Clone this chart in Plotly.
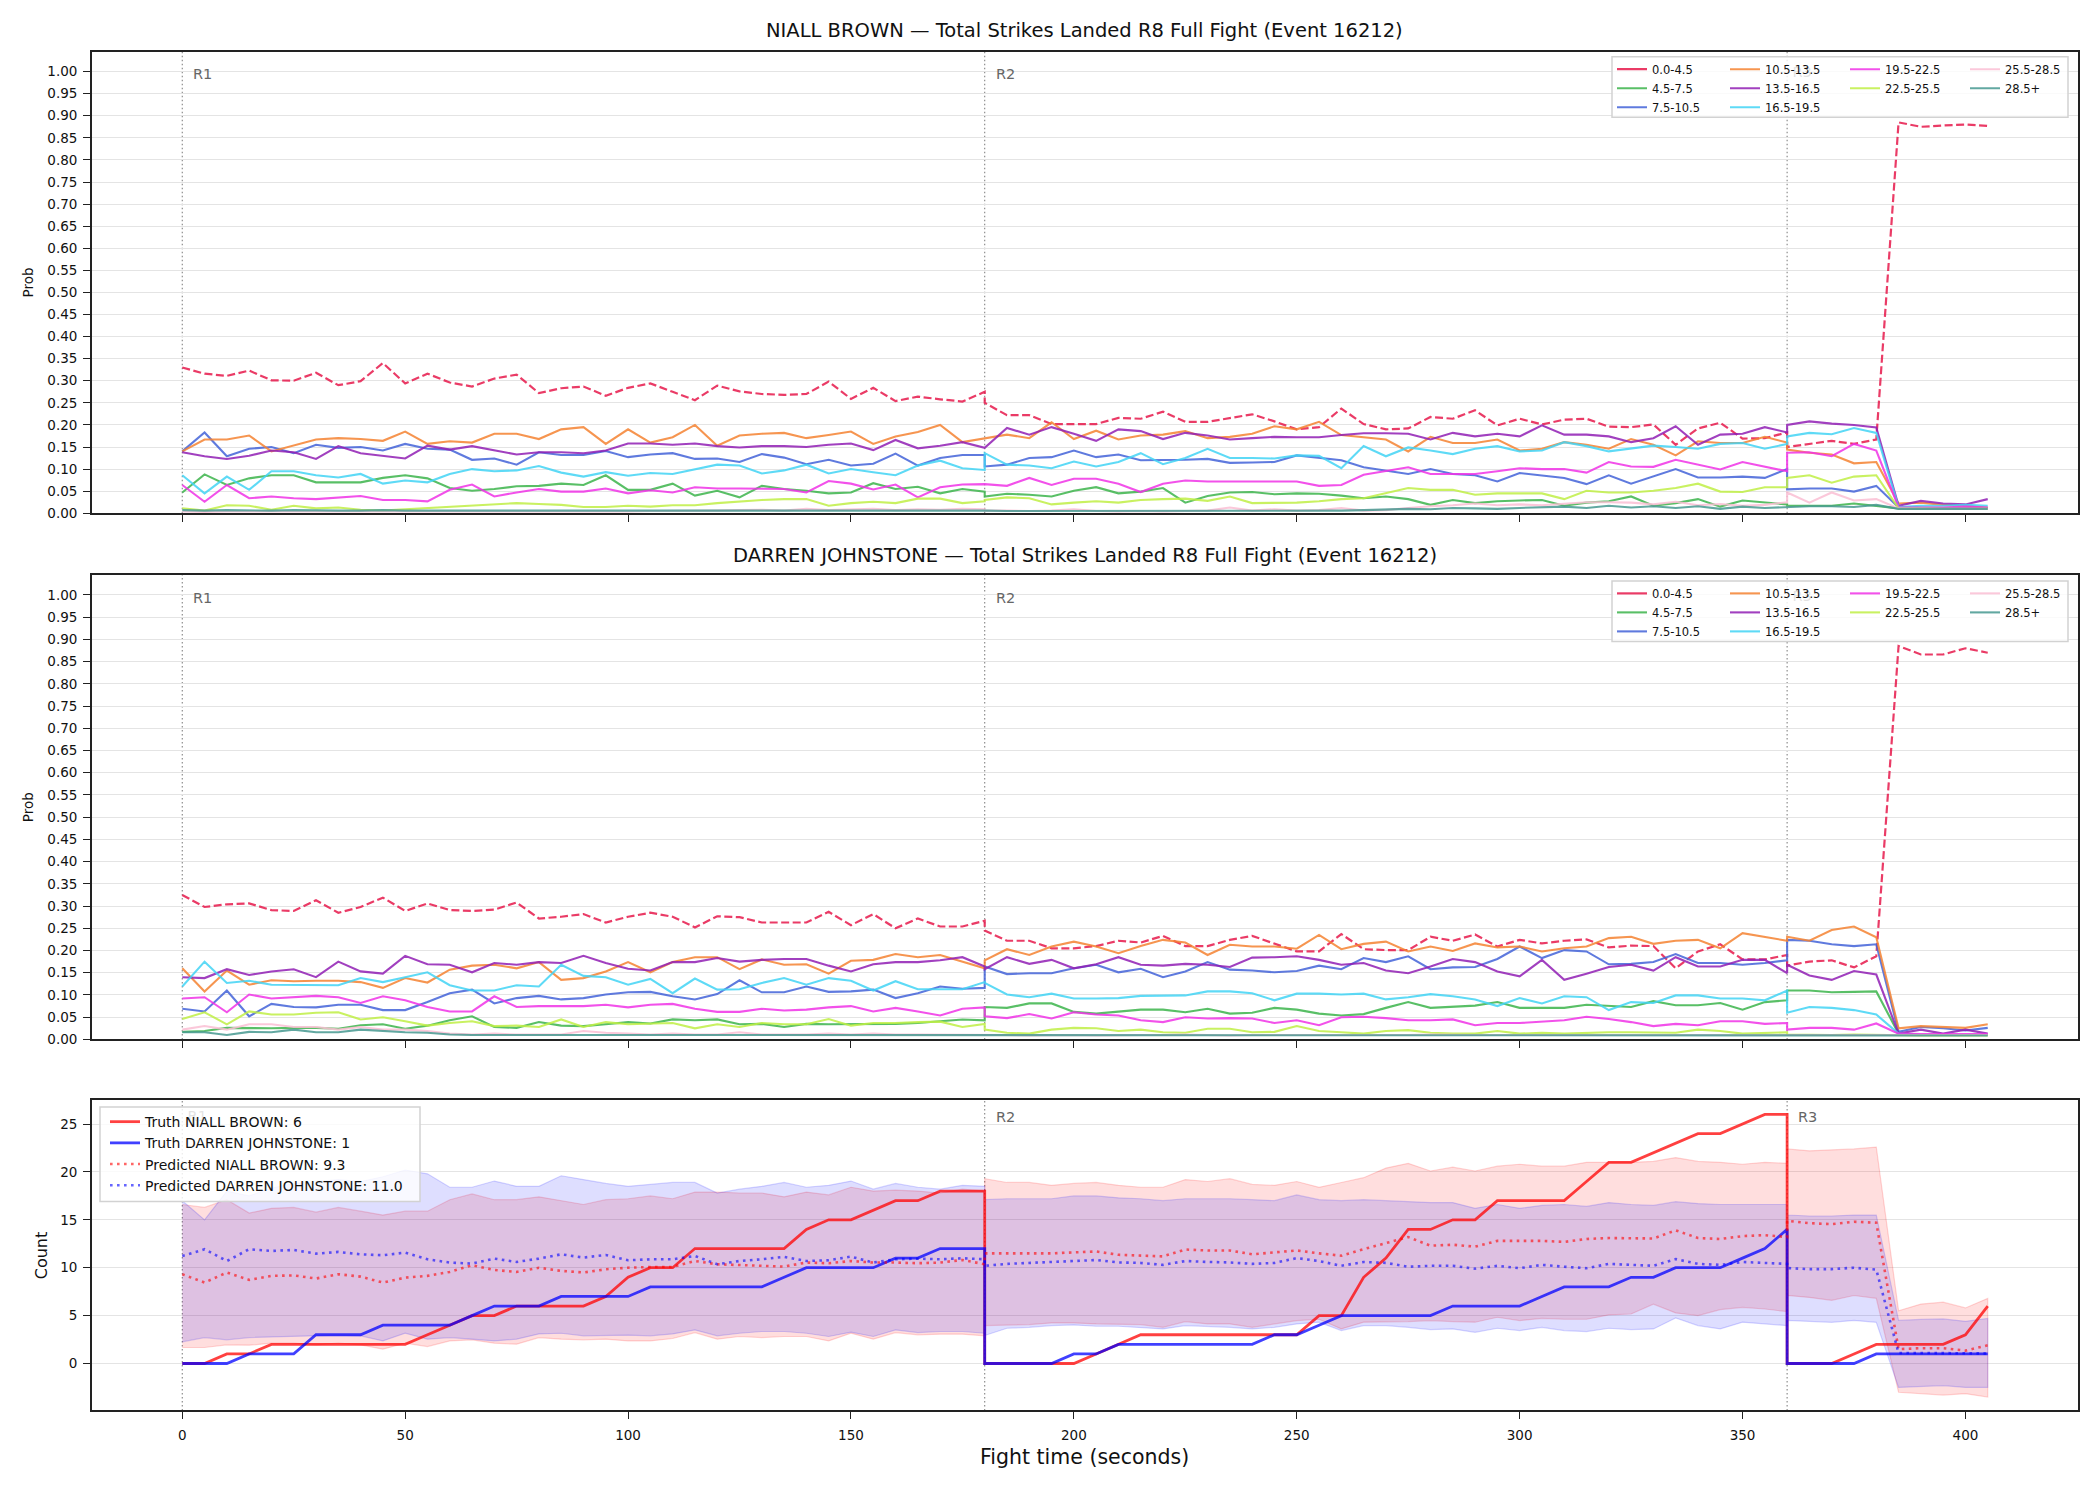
import plotly.graph_objects as go

W, H = 2100, 1500
FONT = "DejaVu Sans"

# ---------------- time axis (5 s samples, rounds restart at 180 / 360) ----------------
TIME_R1 = list(range(0, 181, 5))
TIME_R2 = list(range(180, 361, 5))
TIME_R3 = list(range(360, 406, 5))
TIME = TIME_R1 + TIME_R2 + TIME_R3

X_TICKS = [0, 50, 100, 150, 200, 250, 300, 350, 400]
ROUND_STARTS = [0, 180, 360]
ROUND_LABELS = ["R1", "R2", "R3"]

BIN_LABELS = ["0.0-4.5", "4.5-7.5", "7.5-10.5", "10.5-13.5", "13.5-16.5",
              "16.5-19.5", "19.5-22.5", "22.5-25.5", "25.5-28.5", "28.5+"]
BIN_COLORS = ["#e6194b", "#3cb44b", "#4363d8", "#f58231", "#911eb4",
              "#42d4f4", "#f032e6", "#bfef45", "#fabed4", "#469990"]

TITLE_NB = "NIALL BROWN — Total Strikes Landed R8 Full Fight (Event 16212)"
TITLE_DJ = "DARREN JOHNSTONE — Total Strikes Landed R8 Full Fight (Event 16212)"

# ---------------- NIALL BROWN bin probabilities ----------------
nb_p00 = [0.330, 0.316, 0.311, 0.323, 0.301, 0.300, 0.318, 0.290, 0.299, 0.340, 0.294, 0.316, 0.296, 0.287, 0.305, 0.314, 0.272, 0.283, 0.287, 0.266, 0.284, 0.294, 0.275, 0.256, 0.289, 0.276, 0.270, 0.268, 0.270, 0.298, 0.259, 0.284, 0.254, 0.264, 0.258, 0.253, 0.275] \
    + [0.250, 0.222, 0.222, 0.202, 0.202, 0.202, 0.216, 0.214, 0.230, 0.207, 0.207, 0.216, 0.224, 0.208, 0.190, 0.195, 0.237, 0.202, 0.190, 0.192, 0.218, 0.214, 0.233, 0.199, 0.214, 0.201, 0.212, 0.214, 0.196, 0.195, 0.201, 0.155, 0.192, 0.205, 0.169, 0.170, 0.183] \
    + [0.150, 0.157, 0.164, 0.157, 0.167, 0.885, 0.875, 0.878, 0.880, 0.877]
nb_p04 = [0.047, 0.088, 0.064, 0.079, 0.086, 0.086, 0.070, 0.070, 0.070, 0.080, 0.086, 0.079, 0.057, 0.051, 0.055, 0.061, 0.062, 0.067, 0.064, 0.086, 0.053, 0.053, 0.067, 0.040, 0.051, 0.036, 0.062, 0.055, 0.051, 0.045, 0.047, 0.068, 0.055, 0.060, 0.045, 0.055, 0.049] \
    + [0.038, 0.044, 0.042, 0.038, 0.051, 0.059, 0.045, 0.049, 0.057, 0.024, 0.039, 0.047, 0.048, 0.043, 0.045, 0.044, 0.040, 0.034, 0.038, 0.032, 0.019, 0.030, 0.023, 0.027, 0.029, 0.030, 0.017, 0.024, 0.027, 0.038, 0.017, 0.023, 0.032, 0.015, 0.029, 0.024, 0.020] \
    + [0.017, 0.017, 0.017, 0.022, 0.017, 0.011, 0.011, 0.011, 0.011, 0.011]
nb_p07 = [0.140, 0.183, 0.129, 0.146, 0.150, 0.136, 0.155, 0.148, 0.150, 0.142, 0.157, 0.146, 0.144, 0.121, 0.124, 0.110, 0.138, 0.132, 0.132, 0.141, 0.127, 0.133, 0.136, 0.123, 0.124, 0.116, 0.134, 0.126, 0.111, 0.121, 0.108, 0.112, 0.135, 0.108, 0.125, 0.132, 0.132] \
    + [0.106, 0.110, 0.125, 0.127, 0.142, 0.127, 0.133, 0.120, 0.120, 0.121, 0.123, 0.114, 0.115, 0.116, 0.131, 0.125, 0.120, 0.104, 0.097, 0.089, 0.100, 0.089, 0.086, 0.072, 0.091, 0.085, 0.080, 0.066, 0.086, 0.067, 0.083, 0.100, 0.081, 0.081, 0.083, 0.080, 0.100] \
    + [0.054, 0.056, 0.056, 0.049, 0.062, 0.013, 0.012, 0.012, 0.012, 0.012]
nb_p10 = [0.140, 0.167, 0.167, 0.176, 0.140, 0.153, 0.167, 0.170, 0.168, 0.164, 0.185, 0.157, 0.163, 0.160, 0.180, 0.180, 0.168, 0.190, 0.195, 0.157, 0.190, 0.160, 0.172, 0.200, 0.153, 0.176, 0.180, 0.182, 0.170, 0.177, 0.185, 0.157, 0.174, 0.184, 0.200, 0.161, 0.170] \
    + [0.169, 0.178, 0.170, 0.206, 0.168, 0.187, 0.167, 0.176, 0.178, 0.186, 0.170, 0.173, 0.180, 0.197, 0.190, 0.207, 0.177, 0.172, 0.167, 0.140, 0.173, 0.159, 0.159, 0.167, 0.142, 0.146, 0.161, 0.155, 0.146, 0.168, 0.155, 0.131, 0.163, 0.159, 0.159, 0.173, 0.160] \
    + [0.144, 0.137, 0.133, 0.113, 0.116, 0.022, 0.024, 0.019, 0.017, 0.013]
nb_p13 = [0.138, 0.129, 0.123, 0.130, 0.142, 0.138, 0.123, 0.152, 0.136, 0.130, 0.124, 0.153, 0.144, 0.152, 0.143, 0.133, 0.138, 0.138, 0.136, 0.142, 0.158, 0.158, 0.155, 0.158, 0.152, 0.149, 0.152, 0.152, 0.150, 0.155, 0.158, 0.143, 0.166, 0.147, 0.153, 0.161, 0.148] \
    + [0.148, 0.193, 0.178, 0.195, 0.180, 0.164, 0.190, 0.186, 0.168, 0.182, 0.176, 0.167, 0.170, 0.173, 0.172, 0.172, 0.177, 0.181, 0.181, 0.180, 0.167, 0.182, 0.174, 0.180, 0.174, 0.199, 0.178, 0.178, 0.174, 0.161, 0.170, 0.197, 0.155, 0.178, 0.180, 0.195, 0.183] \
    + [0.200, 0.208, 0.203, 0.200, 0.194, 0.017, 0.028, 0.022, 0.020, 0.032]
nb_p16 = [0.086, 0.045, 0.083, 0.053, 0.095, 0.095, 0.086, 0.081, 0.089, 0.067, 0.074, 0.070, 0.089, 0.100, 0.095, 0.097, 0.107, 0.092, 0.083, 0.093, 0.085, 0.091, 0.089, 0.100, 0.110, 0.108, 0.090, 0.097, 0.110, 0.090, 0.100, 0.093, 0.086, 0.108, 0.119, 0.102, 0.098] \
    + [0.136, 0.110, 0.108, 0.102, 0.117, 0.106, 0.116, 0.136, 0.111, 0.125, 0.146, 0.125, 0.125, 0.124, 0.131, 0.130, 0.102, 0.152, 0.129, 0.149, 0.142, 0.134, 0.146, 0.152, 0.140, 0.142, 0.161, 0.152, 0.140, 0.146, 0.153, 0.150, 0.146, 0.157, 0.159, 0.146, 0.157] \
    + [0.174, 0.182, 0.179, 0.193, 0.182, 0.014, 0.017, 0.017, 0.019, 0.017]
nb_p19 = [0.064, 0.026, 0.064, 0.034, 0.038, 0.034, 0.032, 0.036, 0.039, 0.030, 0.030, 0.027, 0.053, 0.065, 0.038, 0.047, 0.055, 0.049, 0.049, 0.056, 0.045, 0.052, 0.047, 0.059, 0.056, 0.056, 0.056, 0.055, 0.047, 0.073, 0.067, 0.054, 0.065, 0.036, 0.059, 0.065, 0.066] \
    + [0.066, 0.062, 0.080, 0.064, 0.078, 0.078, 0.067, 0.048, 0.067, 0.074, 0.072, 0.072, 0.072, 0.072, 0.072, 0.062, 0.064, 0.087, 0.095, 0.104, 0.089, 0.089, 0.089, 0.095, 0.102, 0.100, 0.100, 0.092, 0.116, 0.106, 0.105, 0.121, 0.110, 0.099, 0.116, 0.105, 0.095] \
    + [0.137, 0.138, 0.129, 0.157, 0.142, 0.013, 0.013, 0.013, 0.015, 0.013]
nb_p22 = [0.011, 0.006, 0.018, 0.017, 0.008, 0.017, 0.011, 0.013, 0.008, 0.006, 0.009, 0.012, 0.015, 0.017, 0.021, 0.023, 0.021, 0.019, 0.014, 0.014, 0.017, 0.015, 0.018, 0.018, 0.023, 0.027, 0.030, 0.032, 0.032, 0.017, 0.023, 0.026, 0.023, 0.033, 0.033, 0.023, 0.027] \
    + [0.030, 0.036, 0.034, 0.020, 0.024, 0.027, 0.024, 0.030, 0.032, 0.033, 0.028, 0.038, 0.023, 0.024, 0.024, 0.027, 0.032, 0.034, 0.045, 0.057, 0.053, 0.053, 0.042, 0.045, 0.045, 0.045, 0.032, 0.051, 0.047, 0.047, 0.051, 0.057, 0.067, 0.049, 0.048, 0.059, 0.059] \
    + [0.080, 0.086, 0.069, 0.083, 0.086, 0.011, 0.010, 0.010, 0.010, 0.010]
nb_p25 = [0.004, 0.003, 0.004, 0.004, 0.003, 0.004, 0.003, 0.003, 0.003, 0.003, 0.003, 0.003, 0.003, 0.003, 0.003, 0.003, 0.004, 0.004, 0.004, 0.004, 0.004, 0.005, 0.005, 0.005, 0.006, 0.007, 0.008, 0.006, 0.010, 0.007, 0.008, 0.010, 0.007, 0.009, 0.008, 0.010, 0.009] \
    + [0.006, 0.006, 0.005, 0.006, 0.009, 0.005, 0.004, 0.005, 0.004, 0.005, 0.006, 0.013, 0.006, 0.009, 0.006, 0.007, 0.012, 0.006, 0.007, 0.012, 0.016, 0.018, 0.022, 0.018, 0.020, 0.018, 0.022, 0.025, 0.025, 0.024, 0.020, 0.026, 0.018, 0.021, 0.017, 0.019, 0.025] \
    + [0.047, 0.024, 0.047, 0.029, 0.032, 0.011, 0.010, 0.010, 0.010, 0.010]
nb_p28 = [0.007, 0.006, 0.007, 0.006, 0.006, 0.007, 0.006, 0.006, 0.006, 0.007, 0.006, 0.006, 0.006, 0.006, 0.007, 0.006, 0.006, 0.006, 0.006, 0.006, 0.006, 0.006, 0.007, 0.006, 0.006, 0.006, 0.006, 0.006, 0.006, 0.006, 0.007, 0.006, 0.006, 0.006, 0.006, 0.006, 0.006] \
    + [0.006, 0.005, 0.005, 0.005, 0.005, 0.005, 0.005, 0.005, 0.005, 0.005, 0.005, 0.005, 0.005, 0.005, 0.005, 0.005, 0.006, 0.007, 0.008, 0.010, 0.009, 0.012, 0.011, 0.010, 0.012, 0.014, 0.015, 0.012, 0.017, 0.013, 0.016, 0.012, 0.016, 0.010, 0.015, 0.012, 0.014] \
    + [0.014, 0.016, 0.016, 0.014, 0.019, 0.010, 0.010, 0.010, 0.010, 0.010]

# ---------------- DARREN JOHNSTONE bin probabilities ----------------
dj_p00 = [0.325, 0.298, 0.304, 0.306, 0.291, 0.289, 0.313, 0.285, 0.298, 0.319, 0.289, 0.306, 0.291, 0.289, 0.292, 0.308, 0.272, 0.276, 0.282, 0.263, 0.276, 0.285, 0.276, 0.252, 0.277, 0.275, 0.263, 0.263, 0.263, 0.287, 0.257, 0.282, 0.250, 0.272, 0.254, 0.254, 0.267] \
    + [0.245, 0.222, 0.222, 0.205, 0.205, 0.210, 0.222, 0.218, 0.233, 0.210, 0.210, 0.224, 0.233, 0.215, 0.198, 0.198, 0.237, 0.203, 0.201, 0.201, 0.231, 0.222, 0.236, 0.209, 0.224, 0.216, 0.222, 0.225, 0.207, 0.211, 0.210, 0.160, 0.198, 0.214, 0.180, 0.180, 0.190] \
    + [0.166, 0.175, 0.178, 0.162, 0.187, 0.885, 0.866, 0.866, 0.880, 0.870]
dj_p04 = [0.017, 0.019, 0.026, 0.025, 0.025, 0.026, 0.026, 0.024, 0.032, 0.034, 0.024, 0.031, 0.043, 0.052, 0.028, 0.026, 0.039, 0.031, 0.030, 0.034, 0.039, 0.036, 0.045, 0.043, 0.045, 0.034, 0.035, 0.028, 0.035, 0.034, 0.034, 0.034, 0.035, 0.037, 0.041, 0.045, 0.043] \
    + [0.073, 0.071, 0.081, 0.081, 0.062, 0.058, 0.063, 0.067, 0.067, 0.061, 0.069, 0.058, 0.060, 0.071, 0.067, 0.058, 0.054, 0.057, 0.071, 0.084, 0.071, 0.073, 0.076, 0.084, 0.071, 0.071, 0.071, 0.078, 0.075, 0.073, 0.086, 0.077, 0.077, 0.082, 0.067, 0.084, 0.088] \
    + [0.110, 0.110, 0.106, 0.107, 0.108, 0.013, 0.010, 0.010, 0.010, 0.010]
dj_p07 = [0.069, 0.063, 0.110, 0.052, 0.080, 0.073, 0.072, 0.078, 0.078, 0.066, 0.066, 0.084, 0.104, 0.112, 0.081, 0.093, 0.098, 0.090, 0.093, 0.101, 0.106, 0.107, 0.097, 0.090, 0.102, 0.133, 0.106, 0.106, 0.119, 0.107, 0.108, 0.112, 0.093, 0.104, 0.119, 0.114, 0.116] \
    + [0.164, 0.147, 0.149, 0.149, 0.160, 0.168, 0.151, 0.159, 0.140, 0.153, 0.174, 0.157, 0.155, 0.151, 0.154, 0.166, 0.158, 0.183, 0.174, 0.187, 0.158, 0.162, 0.163, 0.181, 0.209, 0.183, 0.201, 0.198, 0.169, 0.170, 0.174, 0.192, 0.172, 0.172, 0.168, 0.172, 0.178] \
    + [0.224, 0.222, 0.214, 0.210, 0.214, 0.017, 0.028, 0.025, 0.020, 0.026]
dj_p10 = [0.160, 0.108, 0.155, 0.123, 0.133, 0.131, 0.132, 0.132, 0.129, 0.116, 0.138, 0.128, 0.157, 0.166, 0.168, 0.160, 0.174, 0.134, 0.138, 0.153, 0.174, 0.151, 0.174, 0.185, 0.185, 0.158, 0.180, 0.168, 0.169, 0.148, 0.177, 0.179, 0.192, 0.185, 0.190, 0.175, 0.160] \
    + [0.178, 0.203, 0.190, 0.209, 0.220, 0.209, 0.194, 0.210, 0.224, 0.218, 0.190, 0.213, 0.209, 0.209, 0.204, 0.235, 0.203, 0.215, 0.220, 0.198, 0.209, 0.199, 0.216, 0.207, 0.209, 0.198, 0.205, 0.209, 0.228, 0.231, 0.215, 0.222, 0.224, 0.205, 0.239, 0.230, 0.222] \
    + [0.231, 0.222, 0.246, 0.254, 0.230, 0.025, 0.030, 0.028, 0.026, 0.034]
dj_p13 = [0.140, 0.138, 0.158, 0.145, 0.153, 0.158, 0.140, 0.175, 0.153, 0.148, 0.188, 0.169, 0.168, 0.151, 0.172, 0.168, 0.174, 0.172, 0.188, 0.172, 0.159, 0.155, 0.174, 0.174, 0.183, 0.175, 0.179, 0.181, 0.181, 0.166, 0.153, 0.169, 0.174, 0.174, 0.178, 0.185, 0.164] \
    + [0.158, 0.185, 0.170, 0.179, 0.160, 0.169, 0.185, 0.168, 0.166, 0.170, 0.168, 0.163, 0.184, 0.185, 0.187, 0.179, 0.168, 0.172, 0.155, 0.149, 0.164, 0.181, 0.174, 0.153, 0.142, 0.179, 0.134, 0.148, 0.163, 0.168, 0.155, 0.185, 0.164, 0.164, 0.179, 0.179, 0.149] \
    + [0.168, 0.144, 0.134, 0.154, 0.146, 0.013, 0.022, 0.013, 0.022, 0.013]
dj_p16 = [0.119, 0.175, 0.127, 0.132, 0.123, 0.123, 0.122, 0.122, 0.138, 0.129, 0.140, 0.151, 0.122, 0.110, 0.110, 0.122, 0.119, 0.168, 0.143, 0.140, 0.123, 0.136, 0.104, 0.137, 0.112, 0.113, 0.127, 0.138, 0.123, 0.138, 0.132, 0.110, 0.131, 0.113, 0.113, 0.113, 0.129] \
    + [0.127, 0.101, 0.095, 0.103, 0.092, 0.092, 0.093, 0.098, 0.098, 0.099, 0.108, 0.108, 0.104, 0.088, 0.103, 0.103, 0.101, 0.103, 0.090, 0.095, 0.102, 0.097, 0.090, 0.075, 0.093, 0.081, 0.097, 0.095, 0.066, 0.084, 0.082, 0.099, 0.099, 0.092, 0.092, 0.088, 0.110] \
    + [0.060, 0.073, 0.071, 0.066, 0.056, 0.013, 0.010, 0.010, 0.010, 0.010]
dj_p19 = [0.092, 0.095, 0.061, 0.101, 0.092, 0.095, 0.098, 0.095, 0.082, 0.097, 0.088, 0.073, 0.063, 0.063, 0.097, 0.073, 0.075, 0.075, 0.075, 0.078, 0.072, 0.078, 0.080, 0.069, 0.062, 0.062, 0.069, 0.065, 0.067, 0.072, 0.075, 0.063, 0.071, 0.063, 0.054, 0.069, 0.072] \
    + [0.052, 0.048, 0.057, 0.047, 0.061, 0.056, 0.054, 0.043, 0.039, 0.050, 0.047, 0.048, 0.047, 0.037, 0.043, 0.032, 0.050, 0.051, 0.048, 0.043, 0.043, 0.045, 0.032, 0.037, 0.037, 0.040, 0.043, 0.051, 0.046, 0.039, 0.030, 0.035, 0.032, 0.041, 0.041, 0.035, 0.037] \
    + [0.022, 0.026, 0.026, 0.022, 0.036, 0.013, 0.012, 0.012, 0.012, 0.012]
dj_p22 = [0.046, 0.061, 0.034, 0.063, 0.056, 0.056, 0.060, 0.061, 0.045, 0.050, 0.041, 0.031, 0.037, 0.041, 0.030, 0.031, 0.028, 0.045, 0.028, 0.039, 0.034, 0.036, 0.037, 0.025, 0.034, 0.028, 0.037, 0.034, 0.034, 0.046, 0.031, 0.037, 0.037, 0.039, 0.040, 0.028, 0.035] \
    + [0.022, 0.015, 0.013, 0.022, 0.026, 0.025, 0.019, 0.022, 0.016, 0.015, 0.024, 0.024, 0.016, 0.017, 0.030, 0.019, 0.016, 0.013, 0.019, 0.021, 0.015, 0.013, 0.013, 0.019, 0.013, 0.015, 0.013, 0.015, 0.016, 0.016, 0.015, 0.015, 0.022, 0.019, 0.013, 0.015, 0.016] \
    + [0.011, 0.010, 0.010, 0.011, 0.010, 0.009, 0.009, 0.009, 0.009, 0.009]
dj_p25 = [0.022, 0.030, 0.022, 0.034, 0.034, 0.028, 0.028, 0.022, 0.028, 0.022, 0.022, 0.019, 0.013, 0.011, 0.013, 0.011, 0.011, 0.011, 0.019, 0.015, 0.013, 0.011, 0.013, 0.011, 0.011, 0.016, 0.011, 0.011, 0.011, 0.013, 0.011, 0.013, 0.011, 0.011, 0.011, 0.011, 0.011] \
    + [0.010, 0.010, 0.009, 0.010, 0.010, 0.009, 0.010, 0.010, 0.010, 0.011, 0.010, 0.009, 0.010, 0.010, 0.010, 0.010, 0.009, 0.010, 0.010, 0.010, 0.011, 0.010, 0.010, 0.010, 0.010, 0.010, 0.011, 0.010, 0.010, 0.010, 0.010, 0.011, 0.010, 0.010, 0.010, 0.010, 0.010] \
    + [0.010, 0.010, 0.010, 0.010, 0.010, 0.010, 0.010, 0.010, 0.010, 0.010]
dj_p28 = [0.016, 0.016, 0.010, 0.017, 0.016, 0.022, 0.016, 0.016, 0.022, 0.019, 0.016, 0.015, 0.011, 0.010, 0.010, 0.010, 0.010, 0.010, 0.010, 0.010, 0.010, 0.010, 0.010, 0.010, 0.010, 0.010, 0.010, 0.010, 0.010, 0.010, 0.010, 0.010, 0.010, 0.010, 0.010, 0.010, 0.010] \
    + [0.009, 0.009, 0.009, 0.009, 0.009, 0.009, 0.009, 0.009, 0.009, 0.009, 0.009, 0.009, 0.009, 0.009, 0.009, 0.009, 0.009, 0.009, 0.009, 0.009, 0.009, 0.009, 0.009, 0.009, 0.009, 0.009, 0.009, 0.009, 0.009, 0.009, 0.009, 0.009, 0.009, 0.009, 0.009, 0.009, 0.009] \
    + [0.009, 0.009, 0.009, 0.009, 0.009, 0.009, 0.009, 0.009, 0.009, 0.009]

# ---------------- counts panel ----------------
truth_nb = [0, 0, 1, 1, 2, 2, 2, 2, 2, 2, 2, 3, 4, 5, 5, 6, 6, 6, 6, 7, 9, 10, 10, 12, 12, 12, 12, 12, 14, 15, 15, 16, 17, 17, 18, 18, 18] \
    + [0, 0, 0, 0, 0, 1, 2, 3, 3, 3, 3, 3, 3, 3, 3, 5, 5, 9, 11, 14, 14, 15, 15, 17, 17, 17, 17, 19, 21, 21, 22, 23, 24, 24, 25, 26, 26] \
    + [0, 0, 0, 1, 2, 2, 2, 2, 3, 6]
truth_dj = [0, 0, 0, 1, 1, 1, 3, 3, 3, 4, 4, 4, 4, 5, 6, 6, 6, 7, 7, 7, 7, 8, 8, 8, 8, 8, 8, 9, 10, 10, 10, 10, 11, 11, 12, 12, 12] \
    + [0, 0, 0, 0, 1, 1, 2, 2, 2, 2, 2, 2, 2, 3, 3, 4, 5, 5, 5, 5, 5, 6, 6, 6, 6, 7, 8, 8, 8, 9, 9, 10, 10, 10, 11, 12, 14] \
    + [0, 0, 0, 0, 1, 1, 1, 1, 1, 1]
pred_nb = [9.32, 8.45, 9.5, 8.73, 9.15, 9.2, 8.87, 9.32, 9.07, 8.45, 8.97, 9.15, 9.56, 10.26, 9.77, 9.56, 10.0, 9.67, 9.5, 9.84, 10.0, 10.08, 10.08, 10.7, 10.36, 10.3, 10.19, 10.12, 10.54, 10.47, 10.7, 10.54, 10.54, 10.47, 10.54, 10.81, 10.36] \
    + [11.5, 11.5, 11.5, 11.5, 11.6, 11.7, 11.35, 11.25, 11.18, 11.9, 11.8, 11.8, 11.4, 11.6, 11.8, 11.5, 11.25, 11.94, 12.57, 13.2, 12.3, 12.4, 12.2, 12.8, 12.8, 12.8, 12.7, 13.0, 13.1, 13.1, 13.05, 13.9, 13.1, 13.0, 13.3, 13.4, 13.2] \
    + [14.9, 14.65, 14.55, 14.8, 14.7, 1.5, 1.6, 1.6, 1.35, 1.9]
pred_dj = [11.23, 11.93, 10.7, 11.93, 11.75, 11.86, 11.47, 11.65, 11.4, 11.3, 11.58, 10.88, 10.54, 10.43, 10.95, 10.6, 10.95, 11.4, 11.06, 11.33, 10.78, 10.88, 10.88, 11.23, 10.36, 10.7, 10.88, 11.13, 10.7, 10.78, 11.16, 10.54, 10.88, 10.95, 10.88, 10.99, 10.88] \
    + [10.2, 10.4, 10.5, 10.6, 10.7, 10.8, 10.55, 10.5, 10.3, 10.7, 10.6, 10.55, 10.4, 10.5, 11.0, 10.7, 10.2, 10.6, 10.5, 10.1, 10.2, 10.2, 9.9, 10.2, 9.95, 10.3, 10.1, 9.95, 10.4, 10.3, 10.2, 10.9, 10.4, 10.3, 10.6, 10.5, 10.4] \
    + [9.97, 9.85, 9.85, 10.0, 9.8, 1.1, 1.1, 1.1, 1.1, 1.05]
nb_hi = [16.6, 16.3, 17.1, 15.7, 16.2, 16.3, 15.8, 16.3, 15.9, 15.5, 15.9, 15.9, 17.1, 17.7, 17.1, 17.1, 17.4, 17.0, 16.6, 17.1, 17.2, 17.5, 17.2, 17.9, 17.9, 17.8, 17.8, 17.4, 17.9, 17.6, 18.4, 18.0, 18.1, 18.0, 17.8, 18.2, 18.0] \
    + [19.3, 18.9, 18.9, 18.6, 18.8, 18.9, 18.6, 18.4, 18.4, 19.2, 19.0, 19.3, 18.7, 18.6, 19.0, 18.4, 18.9, 19.4, 20.4, 20.9, 20.1, 20.5, 20.1, 20.6, 20.8, 20.6, 20.6, 21.0, 21.0, 21.0, 21.1, 21.5, 21.1, 21.0, 20.8, 21.0, 20.9] \
    + [22.4, 22.2, 22.3, 22.4, 22.6, 5.5, 6.2, 6.4, 5.8, 6.8]
nb_lo = [1.67, 1.67, 1.95, 1.91, 2.12, 2.12, 1.95, 2.12, 1.95, 1.5, 2.12, 1.77, 2.36, 2.47, 2.12, 2.02, 2.71, 2.54, 2.47, 2.54, 2.36, 2.36, 2.61, 3.23, 2.54, 2.82, 2.71, 2.82, 2.82, 2.36, 3.16, 2.54, 3.23, 2.99, 3.06, 3.06, 2.89] \
    + [3.96, 4.03, 4.06, 4.24, 4.24, 4.13, 4.06, 4.06, 3.78, 4.38, 4.13, 4.13, 3.78, 4.13, 4.48, 4.62, 3.61, 4.31, 4.38, 4.38, 4.48, 4.38, 4.31, 4.83, 4.48, 4.72, 4.62, 4.62, 5.07, 5.17, 6.2, 5.28, 5.0, 5.63, 5.87, 5.69, 5.42] \
    + [7.1, 6.9, 6.6, 7.1, 6.8, -3.0, -3.15, -3.3, -3.15, -3.5]
dj_hi = [17.0, 15.0, 18.0, 17.5, 18.3, 18.8, 19.0, 19.2, 19.0, 19.5, 20.2, 19.8, 18.4, 18.4, 19.05, 18.5, 18.5, 19.6, 19.2, 18.8, 18.5, 18.7, 18.9, 18.9, 17.8, 18.2, 18.5, 18.9, 18.4, 18.6, 19.05, 18.2, 18.8, 18.4, 18.2, 18.6, 18.5] \
    + [17.1, 17.2, 17.2, 17.2, 17.5, 17.5, 17.3, 17.2, 17.0, 17.2, 17.2, 17.2, 17.1, 17.0, 17.6, 17.1, 17.0, 17.1, 17.0, 16.9, 16.8, 16.8, 16.2, 16.6, 16.2, 16.5, 16.6, 16.4, 16.8, 16.6, 16.5, 16.9, 16.7, 16.6, 16.6, 16.6, 16.6] \
    + [15.5, 15.4, 15.4, 15.5, 15.5, 4.5, 4.6, 4.65, 4.4, 4.7]
dj_lo = [2.26, 2.71, 2.47, 2.71, 2.78, 2.78, 2.89, 2.96, 2.89, 2.36, 3.16, 2.54, 2.71, 2.54, 2.36, 2.54, 3.09, 3.16, 2.89, 2.89, 2.96, 2.89, 3.09, 3.51, 2.89, 3.16, 3.34, 3.34, 3.16, 2.82, 3.27, 2.82, 3.51, 3.23, 3.34, 3.34, 3.16] \
    + [2.92, 3.68, 3.78, 3.96, 4.03, 3.89, 3.89, 3.78, 3.61, 3.96, 3.89, 3.78, 3.61, 3.78, 4.13, 4.31, 3.44, 3.96, 3.96, 3.78, 3.54, 3.61, 3.26, 3.68, 3.44, 3.78, 3.44, 3.33, 3.68, 3.54, 3.61, 4.76, 3.96, 3.61, 4.31, 4.13, 3.96] \
    + [4.5, 4.4, 4.3, 4.5, 4.3, -2.5, -2.4, -2.3, -2.5, -2.5]

LEG_TRUTH_NB = "Truth NIALL BROWN: 6"
LEG_TRUTH_DJ = "Truth DARREN JOHNSTONE: 1"
LEG_PRED_NB = "Predicted NIALL BROWN: 9.3"
LEG_PRED_DJ = "Predicted DARREN JOHNSTONE: 11.0"

NB_SERIES = [nb_p00, nb_p04, nb_p07, nb_p10, nb_p13, nb_p16, nb_p19, nb_p22, nb_p25, nb_p28]
DJ_SERIES = [dj_p00, dj_p04, dj_p07, dj_p10, dj_p13, dj_p16, dj_p19, dj_p22, dj_p25, dj_p28]

for _name, _arr in [("nb", s) for s in NB_SERIES] + [("dj", s) for s in DJ_SERIES] + \
        [("truth_nb", truth_nb), ("truth_dj", truth_dj), ("pred_nb", pred_nb), ("pred_dj", pred_dj),
         ("nb_hi", nb_hi), ("nb_lo", nb_lo), ("dj_hi", dj_hi), ("dj_lo", dj_lo)]:
    if len(_arr) != len(TIME):
        raise ValueError(f"{_name} has {len(_arr)} values, expected {len(TIME)}")


def rgba(hx, a):
    hx = hx.lstrip("#")
    r, g, b = int(hx[0:2], 16), int(hx[2:4], 16), int(hx[4:6], 16)
    return f"rgba({r},{g},{b},{a})"


def py(p):
    return 1 - p / H


X_DOM = [92 / W, 2078 / W]
PANEL_PX = {1: (52, 516), 2: (578, 1045), 3: (1106, 1418)}
Y_DOM = {k: [py(v[1]), py(v[0])] for k, v in PANEL_PX.items()}
Y_RANGE = {1: [0, 1.045], 2: [0, 1.045], 3: [-4.9, 27.5]}

fig = go.Figure()

COL_OF_BIN = [0, 0, 0, 1, 1, 1, 2, 2, 3, 3]
LEGEND_TEXT_X = [1654, 1767, 1887, 2007]

# --------- probability panels ---------
for panel, series, legbase in [(1, NB_SERIES, 0), (2, DJ_SERIES, 4)]:
    xa = "x" if panel == 1 else "x2"
    ya = "y" if panel == 1 else "y2"
    for k, vals in enumerate(series):
        leg_idx = legbase + COL_OF_BIN[k] + 1
        leg_name = "legend" if leg_idx == 1 else f"legend{leg_idx}"
        col = BIN_COLORS[k]
        if k == 0:
            # legend shows a solid sample for the dashed line
            fig.add_trace(go.Scatter(x=[None], y=[None], mode="lines", name=BIN_LABELS[k],
                                     line=dict(color=rgba(col, 0.85), width=2.2),
                                     xaxis=xa, yaxis=ya, legend=leg_name, showlegend=True))
            fig.add_trace(go.Scatter(x=TIME, y=vals, mode="lines", name=BIN_LABELS[k],
                                     line=dict(color=rgba(col, 0.85), width=2.2, dash="8px,3.5px"),
                                     xaxis=xa, yaxis=ya, showlegend=False, hoverinfo="skip"))
        else:
            fig.add_trace(go.Scatter(x=TIME, y=vals, mode="lines", name=BIN_LABELS[k],
                                     line=dict(color=rgba(col, 0.85), width=2.1),
                                     xaxis=xa, yaxis=ya, legend=leg_name, showlegend=True,
                                     hoverinfo="skip"))

# --------- counts panel ---------
band_x = TIME + TIME[::-1]
fig.add_trace(go.Scatter(x=band_x, y=nb_hi + nb_lo[::-1], fill="toself", mode="lines",
                         fillcolor="rgba(255,0,0,0.13)", line=dict(color="rgba(255,0,0,0.16)", width=1.2),
                         xaxis="x3", yaxis="y3", showlegend=False, hoverinfo="skip"))
fig.add_trace(go.Scatter(x=band_x, y=dj_hi + dj_lo[::-1], fill="toself", mode="lines",
                         fillcolor="rgba(0,0,255,0.13)", line=dict(color="rgba(0,0,255,0.16)", width=1.2),
                         xaxis="x3", yaxis="y3", showlegend=False, hoverinfo="skip"))
fig.add_trace(go.Scatter(x=TIME, y=truth_nb, mode="lines", name=LEG_TRUTH_NB,
                         line=dict(color="rgba(255,0,0,0.75)", width=2.8),
                         xaxis="x3", yaxis="y3", legend="legend9", hoverinfo="skip"))
fig.add_trace(go.Scatter(x=TIME, y=truth_dj, mode="lines", name=LEG_TRUTH_DJ,
                         line=dict(color="rgba(0,0,255,0.75)", width=2.8),
                         xaxis="x3", yaxis="y3", legend="legend9", hoverinfo="skip"))
fig.add_trace(go.Scatter(x=TIME, y=pred_nb, mode="lines", name=LEG_PRED_NB,
                         line=dict(color="rgba(255,0,0,0.6)", width=2.6, dash="2.6px,4.4px"),
                         xaxis="x3", yaxis="y3", legend="legend9", hoverinfo="skip"))
fig.add_trace(go.Scatter(x=TIME, y=pred_dj, mode="lines", name=LEG_PRED_DJ,
                         line=dict(color="rgba(0,0,255,0.6)", width=2.6, dash="2.6px,4.4px"),
                         xaxis="x3", yaxis="y3", legend="legend9", hoverinfo="skip"))

# --------- round labels that sit under a legend box (drawn as text traces, so the box covers them) ---------
LABEL_Y = {1: 0.952, 2: 0.951, 3: 0.945}
HIDDEN_LABELS = [(1, 2), (2, 2), (3, 0)]   # (panel, round index)
for panel, ri in HIDDEN_LABELS:
    lo, hi = Y_RANGE[panel]
    fig.add_trace(go.Scatter(x=[ROUND_STARTS[ri] + 1.2], y=[lo + LABEL_Y[panel] * (hi - lo)], mode="text",
                             text=[ROUND_LABELS[ri]], textposition="middle right",
                             textfont=dict(family=FONT, size=14.5, color="#666666"),
                             xaxis="x" if panel == 1 else f"x{panel}",
                             yaxis="y" if panel == 1 else f"y{panel}",
                             showlegend=False, hoverinfo="skip"))

# --------- axes ---------
AX_COLOR = "#222222"
TICKFONT = dict(family=FONT, size=13.5, color="#111111")


def xaxis(panel, labels):
    return dict(domain=X_DOM, range=[-20.25, 425.25], tickmode="array", tickvals=X_TICKS,
                showticklabels=labels, ticks="outside", ticklen=7, tickwidth=1.4, tickcolor=AX_COLOR,
                ticklabelstandoff=4,
                showline=True, linecolor=AX_COLOR, linewidth=1.8, mirror=True, showgrid=False,
                zeroline=False, tickfont=TICKFONT, anchor="y" if panel == 1 else f"y{panel}")


def yaxis(panel, tickvals, fmt):
    return dict(domain=Y_DOM[panel], range=Y_RANGE[panel], tickmode="array", tickvals=tickvals,
                ticktext=[fmt.format(v) for v in tickvals],
                ticks="outside", ticklen=7, tickwidth=1.4, tickcolor=AX_COLOR, ticklabelstandoff=3,
                showline=True, linecolor=AX_COLOR, linewidth=1.8, mirror=True,
                showgrid=True, gridcolor="#e4e4e4", gridwidth=1, zeroline=False,
                tickfont=TICKFONT, anchor="x" if panel == 1 else f"x{panel}")


PROB_TICKS = [i / 20 for i in range(21)]
COUNT_TICKS = [0, 5, 10, 15, 20, 25]

# --------- legends ---------
def leg(xpx, ypx, size):
    return dict(x=xpx / W, y=py(ypx), xanchor="left", yanchor="top", bgcolor="rgba(0,0,0,0)",
                borderwidth=0, font=dict(family=FONT, size=size, color="#111111"),
                tracegroupgap=0, itemwidth=30, orientation="v")


legends = {}
for i in range(4):
    legends["legend" if i == 0 else f"legend{i + 1}"] = leg(LEGEND_TEXT_X[i] - 42, 55, 11.5)
    legends[f"legend{i + 5}"] = leg(LEGEND_TEXT_X[i] - 42, 582, 11.5)
legends["legend9"] = leg(147 - 42, 1112, 14)

# --------- shapes ---------
shapes = []
for panel in (1, 2, 3):
    xr = "x" if panel == 1 else f"x{panel}"
    yr = ("y" if panel == 1 else f"y{panel}") + " domain"
    for t in ROUND_STARTS:
        shapes.append(dict(type="line", xref=xr, yref=yr, x0=t, x1=t, y0=0, y1=1, layer="below",
                           line=dict(color="rgba(90,90,90,0.75)", width=1.1, dash="1.5px,2.5px")))

for (x0, y0, x1, y1) in [(1612, 57, 2068, 118), (1612, 584, 2068, 645), (100, 1113, 420, 1208)]:
    shapes.append(dict(type="rect", xref="paper", yref="paper", x0=x0 / W, x1=x1 / W, y0=py(y1), y1=py(y0),
                       layer="above", fillcolor="rgba(255,255,255,0.82)",
                       line=dict(color="#d2d2d2", width=1.5)))

# --------- annotations ---------
ann = []
cx = (X_DOM[0] + X_DOM[1]) / 2
ann.append(dict(text=TITLE_NB, x=cx, y=py(31), xref="paper", yref="paper", showarrow=False,
                font=dict(family=FONT, size=19.5, color="#111111"), xanchor="center", yanchor="middle"))
ann.append(dict(text=TITLE_DJ, x=cx, y=py(558), xref="paper", yref="paper", showarrow=False,
                font=dict(family=FONT, size=19.5, color="#111111"), xanchor="center", yanchor="middle"))
for panel in (1, 2):
    top, bot = PANEL_PX[panel]
    ann.append(dict(text="Prob", x=28 / W, y=py((top + bot) / 2), xref="paper", yref="paper",
                    showarrow=False, textangle=-90, font=dict(family=FONT, size=13.5, color="#111111"),
                    xanchor="center", yanchor="middle"))
ann.append(dict(text="Count", x=41 / W, y=py((PANEL_PX[3][0] + PANEL_PX[3][1]) / 2), xref="paper",
                yref="paper", showarrow=False, textangle=-90,
                font=dict(family=FONT, size=16, color="#111111"), xanchor="center", yanchor="middle"))
ann.append(dict(text="Fight time (seconds)", x=cx, y=py(1465), xref="paper", yref="paper",
                showarrow=False, font=dict(family=FONT, size=20.5, color="#111111"),
                xanchor="center", yanchor="middle"))

hidden_set = {(p, ROUND_LABELS[ri]) for p, ri in HIDDEN_LABELS}
for panel in (1, 2, 3):
    xr = "x" if panel == 1 else f"x{panel}"
    yr = ("y" if panel == 1 else f"y{panel}") + " domain"
    for t, lab in zip(ROUND_STARTS, ROUND_LABELS):
        if (panel, lab) in hidden_set:
            continue
        ann.append(dict(text=lab, x=t + 2, y=LABEL_Y[panel], xref=xr, yref=yr, showarrow=False,
                        xanchor="left", yanchor="middle",
                        font=dict(family=FONT, size=14.5, color="#666666")))

fig.update_layout(
    width=W, height=H, margin=dict(l=0, r=0, t=0, b=0),
    paper_bgcolor="white", plot_bgcolor="white",
    font=dict(family=FONT, size=13.5, color="#111111"),
    showlegend=True,
    xaxis=xaxis(1, False), xaxis2=xaxis(2, False), xaxis3=xaxis(3, True),
    yaxis=yaxis(1, PROB_TICKS, "{:.2f}"),
    yaxis2=yaxis(2, PROB_TICKS, "{:.2f}"),
    yaxis3=yaxis(3, COUNT_TICKS, "{:d}"),
    shapes=shapes, annotations=ann,
    hovermode=False,
    **legends,
)

fig.write_html("out.html")
